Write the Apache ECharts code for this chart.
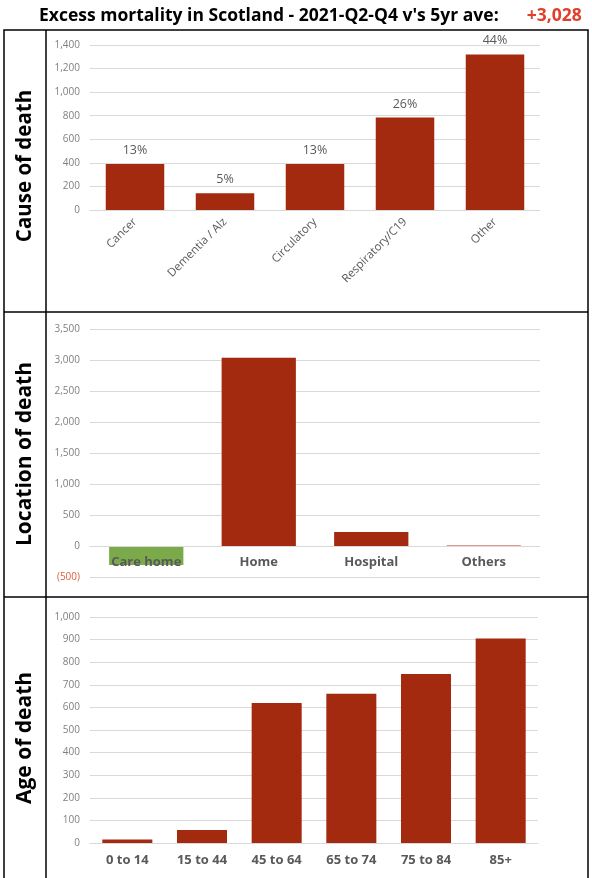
<!DOCTYPE html>
<html>
<head>
<meta charset="utf-8">
<script src="https://cdn.jsdelivr.net/npm/echarts@6/dist/echarts.min.js"></script>
<style>
html,body{margin:0;padding:0;background:#fff;}
#c{width:592px;height:878px;}
</style>
</head>
<body>
<div id="c"></div>
<script>
// ---- data ----
var titleText = "Excess mortality in Scotland - 2021-Q2-Q4 v's 5yr ave:";
var totalText = "+3,028";
var panelTitles = ["Cause of death", "Location of death", "Age of death"];

var causeCategories = ["Cancer", "Dementia / Alz", "Circulatory", "Respiratory/C19", "Other"];
var causeValues = [390, 143, 390, 785, 1320];
var causePct = ["13%", "5%", "13%", "26%", "44%"];

var locationCategories = ["Care home", "Home", "Hospital", "Others"];
var locationValues = [-305, 3035, 225, 18];

var ageCategories = ["0 to 14", "15 to 44", "45 to 64", "65 to 74", "75 to 84", "85+"];
var ageValues = [16, 58, 620, 660, 748, 905];

// ---- styles ----
var RED = '#A3290F';
var GREEN = '#7AAA4A';
var PINK = '#E59A92';
var GRAY = '#595959';
var GRID = '#D9D9D9';
var FONT = "'Open Sans', 'Noto Sans', sans-serif";

function fmt(v){
  var s = Math.abs(v).toString().replace(/\B(?=(\d{3})+(?!\d))/g, ',');
  return v < 0 ? '(' + s + ')' : s;
}

var chart = echarts.init(document.getElementById('c'), null, {renderer:'canvas'});

function yAxis(idx, min, max, interval){
  return {
    type:'value', gridIndex:idx, min:min, max:max, interval:interval,
    axisLine:{show:false}, axisTick:{show:false},
    splitLine:{lineStyle:{color:GRID, width:1}},
    axisLabel:{
      formatter:fmt, fontFamily:FONT, fontSize:10, margin:10,
      color:function(v){ return v < 0 ? '#D9603B' : '#7F7F7F'; }
    }
  };
}

var option = {
  backgroundColor:'#fff',
  animation:false,
  title:{
    left:34, top:2,
    text:'{a|' + titleText + '}{b|' + totalText + '}',
    textStyle:{
      rich:{
        a:{fontFamily:FONT, fontWeight:'bold', fontSize:17.5, color:'#000', padding:[0,28,0,0]},
        b:{fontFamily:FONT, fontWeight:'bold', fontSize:17.5, color:'#E0402A'}
      }
    }
  },
  grid:[
    {left:90, right:52, top:45, bottom:668, containLabel:false},
    {left:90, right:52, top:329, bottom:301, containLabel:false},
    {left:90, right:54, top:617, bottom:35, containLabel:false}
  ],
  xAxis:[
    {type:'category', gridIndex:0, data:causeCategories,
     axisLine:{lineStyle:{color:GRID}}, axisTick:{show:false},
     axisLabel:{rotate:45, fontFamily:FONT, fontSize:11.5, color:GRAY, margin:10, interval:0}},
    {type:'category', gridIndex:1, data:locationCategories, z:5,
     offset:-31, axisLine:{onZero:false, lineStyle:{color:GRID}}, axisTick:{show:false},
     axisLabel:{fontFamily:FONT, fontSize:13, fontWeight:'bold', color:GRAY, margin:10, interval:0}},
    {type:'category', gridIndex:2, data:ageCategories,
     axisLine:{lineStyle:{color:GRID}}, axisTick:{show:false},
     axisLabel:{fontFamily:FONT, fontSize:13, fontWeight:'bold', color:GRAY, margin:11, interval:0}}
  ],
  yAxis:[
    yAxis(0, 0, 1400, 200),
    yAxis(1, -500, 3500, 500),
    yAxis(2, 0, 1000, 100)
  ],
  series:[
    {type:'bar', xAxisIndex:0, yAxisIndex:0, data:causeValues, barWidth:'65%',
     itemStyle:{color:RED},
     label:{show:true, position:'top', distance:7, fontFamily:FONT, fontSize:12.5, color:GRAY,
            formatter:function(p){ return causePct[p.dataIndex]; }}},
    {type:'bar', xAxisIndex:1, yAxisIndex:1, barWidth:'66%', z:1,
     data:locationValues.map(function(v, i){
       return {value:v, itemStyle:{color: v < 0 ? GREEN : (i === locationValues.length-1 ? PINK : RED)}};
     })},
    {type:'bar', xAxisIndex:2, yAxisIndex:2, data:ageValues, barWidth:'67%',
     itemStyle:{color:RED}}
  ],
  graphic:[
    // outer frame and dividers
    {type:'rect', shape:{x:4, y:30, width:584, height:860}, style:{fill:'none', stroke:'#000', lineWidth:1.5}, silent:true, z:100},
    {type:'line', shape:{x1:46, y1:30, x2:46, y2:878}, style:{stroke:'#000', lineWidth:1.5}, silent:true, z:100},
    {type:'line', shape:{x1:4, y1:312, x2:588, y2:312}, style:{stroke:'#000', lineWidth:1.5}, silent:true, z:100},
    {type:'line', shape:{x1:4, y1:597, x2:588, y2:597}, style:{stroke:'#000', lineWidth:1.5}, silent:true, z:100},
    // row titles
    {type:'text', x:25, y:166, rotation:Math.PI/2,
     style:{text:panelTitles[0], fontFamily:FONT, fontWeight:'bold', fontSize:20.5, fill:'#000', textAlign:'center', textVerticalAlign:'middle'}},
    {type:'text', x:25, y:454, rotation:Math.PI/2,
     style:{text:panelTitles[1], fontFamily:FONT, fontWeight:'bold', fontSize:21, fill:'#000', textAlign:'center', textVerticalAlign:'middle'}},
    {type:'text', x:25, y:738, rotation:Math.PI/2,
     style:{text:panelTitles[2], fontFamily:FONT, fontWeight:'bold', fontSize:21, fill:'#000', textAlign:'center', textVerticalAlign:'middle'}}
  ]
};
chart.setOption(option);
</script>
</body>
</html>
